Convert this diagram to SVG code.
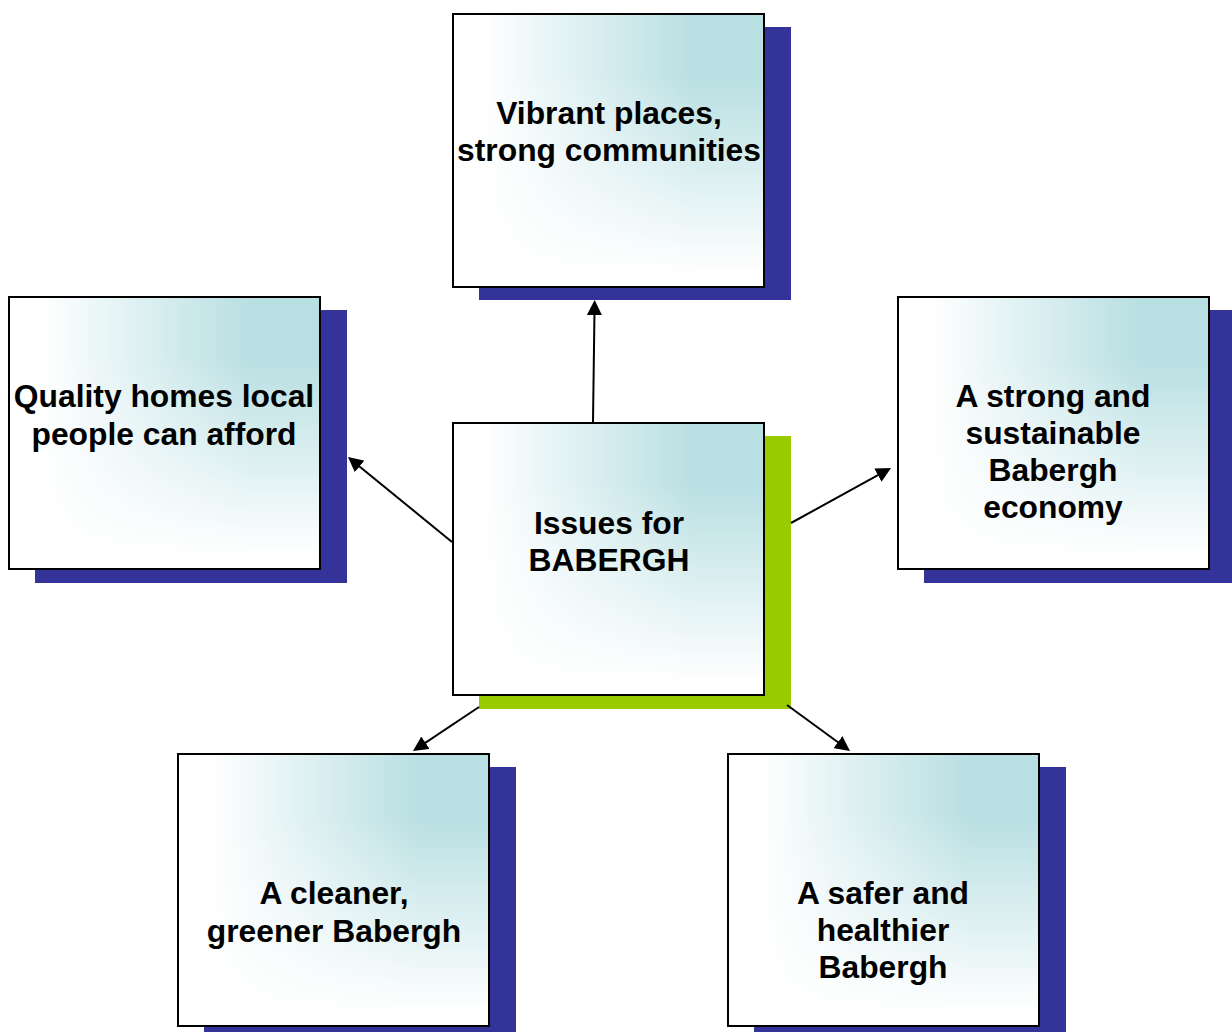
<svg xmlns="http://www.w3.org/2000/svg" width="1232" height="1032" viewBox="0 0 1232 1032">
<defs>
<linearGradient id="hfill" x1="0" y1="0" x2="1" y2="0">
<stop offset="0" stop-color="#ffffff"/>
<stop offset="0.1" stop-color="#ffffff"/>
<stop offset="0.78" stop-color="#b8dfe2"/>
<stop offset="1" stop-color="#b8dfe2"/>
</linearGradient>
<linearGradient id="vfade" x1="0" y1="0" x2="0" y2="1">
<stop offset="0" stop-color="#ffffff" stop-opacity="0"/>
<stop offset="0.22" stop-color="#ffffff" stop-opacity="0"/>
<stop offset="0.95" stop-color="#ffffff" stop-opacity="1"/>
<stop offset="1" stop-color="#ffffff" stop-opacity="1"/>
</linearGradient>
<marker id="arrow" viewBox="0 0 15 15" markerWidth="15" markerHeight="15" refX="12" refY="7.5" orient="auto" markerUnits="userSpaceOnUse">
<path d="M0,0 L15,7.5 L0,15 z" fill="#000"/>
</marker>
</defs>
<style>
.shadow{fill:#333399}
.gshadow{fill:#99cc00}
.base{fill:url(#hfill)}
.box{fill:url(#vfade);stroke:#000;stroke-width:2}
.lbl{font-family:"Liberation Sans",Arial,Helvetica,sans-serif;font-weight:bold;font-size:31.8px;fill:#000;text-anchor:middle}
.conn{stroke:#000;stroke-width:2;fill:none;marker-end:url(#arrow)}
</style>
<rect width="1232" height="1032" fill="#ffffff"/>

<g id="node-vibrant">
<rect class="shadow" x="479" y="27" width="312" height="273"/>
<rect class="base" x="453" y="14" width="311" height="273"/>
<rect class="box" x="453" y="14" width="311" height="273"/>
<text class="lbl" x="609" y="124">Vibrant places,</text>
<text class="lbl" x="609" y="161">strong communities</text>
</g>

<g id="node-homes">
<rect class="shadow" x="35" y="310" width="312" height="273"/>
<rect class="base" x="9" y="297" width="311" height="272"/>
<rect class="box" x="9" y="297" width="311" height="272"/>
<text class="lbl" x="164" y="407">Quality homes local</text>
<text class="lbl" x="164" y="445">people can afford</text>
</g>

<g id="node-economy">
<rect class="shadow" x="924" y="310" width="312" height="273"/>
<rect class="base" x="898" y="297" width="311" height="272"/>
<rect class="box" x="898" y="297" width="311" height="272"/>
<text class="lbl" x="1053" y="407">A strong and</text>
<text class="lbl" x="1053" y="444">sustainable</text>
<text class="lbl" x="1053" y="481">Babergh</text>
<text class="lbl" x="1053" y="518">economy</text>
</g>

<g id="node-center">
<rect class="gshadow" x="479" y="436" width="312" height="273"/>
<rect class="base" x="453" y="423" width="311" height="272"/>
<rect class="box" x="453" y="423" width="311" height="272"/>
<text class="lbl" x="609" y="534">Issues for</text>
<text class="lbl" x="609" y="571">BABERGH</text>
</g>

<g id="node-cleaner">
<rect class="shadow" x="204" y="767" width="312" height="273"/>
<rect class="base" x="178" y="754" width="311" height="272"/>
<rect class="box" x="178" y="754" width="311" height="272"/>
<text class="lbl" x="334" y="904">A cleaner,</text>
<text class="lbl" x="334" y="942">greener Babergh</text>
</g>

<g id="node-safer">
<rect class="shadow" x="754" y="767" width="312" height="273"/>
<rect class="base" x="728" y="754" width="311" height="272"/>
<rect class="box" x="728" y="754" width="311" height="272"/>
<text class="lbl" x="883" y="904">A safer and</text>
<text class="lbl" x="883" y="941">healthier</text>
<text class="lbl" x="883" y="978">Babergh</text>
</g>

<g id="connectors">
<line class="conn" x1="593" y1="422" x2="594.6" y2="303"/>
<line class="conn" x1="452" y1="542" x2="350.3" y2="458.9"/>
<line class="conn" x1="791" y1="523" x2="888.4" y2="469.4"/>
<line class="conn" x1="479" y1="707" x2="415.5" y2="749.4"/>
<line class="conn" x1="787" y1="705" x2="847.6" y2="749.2"/>
</g>
</svg>
